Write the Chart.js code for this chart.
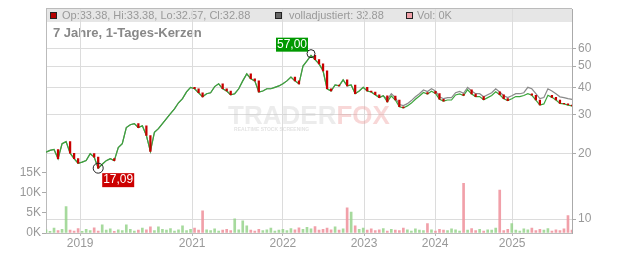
<!DOCTYPE html>
<html lang="de">
<head>
<meta charset="UTF-8">
<title>7 Jahre, 1-Tages-Kerzen</title>
<script src="https://cdn.jsdelivr.net/npm/chart.js"></script>
<style>
  body { margin: 0; background: #fff; }
  #wrap { width: 632px; height: 253px; }
</style>
</head>
<body>
<div id="wrap"><canvas id="chart"></canvas></div>
<script>
// x = position of the bar in the series (index), years are marked at these spots
const yearLabels = ['2019', '2021', '2022', '2023', '2024', '2025'];
const yearPos = [8.5, 36.4, 59.0, 79.2, 96.9, 116.1];

// fully adjusted close (grey line)
const adjusted = [
  20.2, 20.6, 20.8, 18.9, 22.1, 22.6, 20.0, 18.9, 18.0, 18.2,
  18.5, 19.9, 19.2, 17.1, 17.8, 18.5, 18.9, 18.5, 21.2, 22.1,
  26.2, 27.0, 27.3, 26.2, 26.7, 24.1, 20.4, 24.9, 25.9, 27.3,
  28.8, 30.3, 31.9, 34.0, 35.5, 38.1, 40.0, 39.4, 37.8, 36.2,
  37.4, 37.8, 40.3, 41.5, 39.4, 38.5, 37.0, 37.4, 39.4, 42.8,
  46.1, 43.8, 42.8, 38.1, 38.5, 39.4, 39.4, 40.0, 40.6, 41.5,
  42.8, 44.6, 42.8, 41.5, 50.0, 52.8, 56.0, 53.5, 51.2, 47.6,
  39.4, 38.5, 41.0, 40.6, 43.3, 40.6, 41.0, 37.4, 38.5, 40.0,
  38.5, 38.1, 37.0, 35.9, 36.6, 35.2, 37.4, 35.9, 33.4, 33.0,
  33.7, 34.8, 36.2, 37.4, 38.9, 38.3, 39.4, 38.5, 36.2, 35.5,
  35.9, 35.9, 37.8, 38.3, 37.6, 40.0, 38.5, 37.4, 37.4, 36.2,
  37.0, 37.8, 39.4, 38.1, 36.6, 35.9, 36.6, 37.4, 37.4, 37.8,
  40.0, 39.4, 37.4, 35.5, 35.9, 39.4, 38.5, 37.4, 36.2, 35.9,
  35.5, 35.2
];

// traded close (candles)
const closes = [
  20.2, 20.6, 20.8, 18.9, 22.1, 22.6, 20.0, 18.9, 18.0, 18.2,
  18.5, 19.9, 19.2, 17.1, 17.8, 18.5, 18.9, 18.5, 21.2, 22.1,
  26.2, 27.0, 27.3, 26.2, 26.7, 24.1, 20.4, 24.9, 25.9, 27.3,
  28.8, 30.3, 31.9, 34.0, 35.5, 38.1, 40.0, 39.4, 37.8, 36.2,
  37.4, 37.8, 40.3, 41.5, 39.4, 38.5, 37.0, 37.4, 39.4, 42.8,
  46.1, 43.8, 42.8, 38.1, 38.5, 39.4, 39.4, 40.0, 40.6, 41.5,
  42.8, 44.6, 42.8, 41.5, 50.0, 52.8, 56.0, 53.5, 51.2, 47.6,
  39.4, 38.5, 41.0, 40.6, 43.3, 40.6, 41.0, 37.4, 38.5, 40.0,
  38.5, 38.1, 37.0, 35.9, 36.6, 34.3, 36.5, 35.0, 32.6, 32.2,
  32.9, 33.9, 35.3, 36.5, 37.9, 37.3, 38.4, 37.5, 35.3, 34.6,
  35.0, 35.0, 36.9, 37.3, 36.7, 39.0, 37.3, 36.3, 36.3, 35.1,
  35.9, 36.7, 38.2, 37.0, 35.5, 34.8, 35.5, 36.3, 36.3, 36.7,
  37.4, 36.8, 35.0, 33.2, 33.6, 36.8, 36.0, 35.0, 33.8, 33.6,
  33.2, 32.9
];

const volumes = [
  800, 400, 1200, 600, 900, 6500, 700, 500, 1100, 400,
  900, 600, 1300, 500, 2000, 700, 1000, 400, 800, 600,
  2000, 900, 500, 700, 1200, 800, 1500, 600, 1500, 900,
  700, 1100, 500, 800, 1800, 600, 900, 1200, 700, 5500,
  800, 600, 1000, 500, 700, 900, 600, 3500, 800, 3000,
  1800, 700, 500, 900, 600, 800, 1200, 500, 700, 900,
  600, 1100, 800, 1300, 900, 1400, 1000, 1600, 700, 900,
  1200, 800, 1500, 700, 1000, 6200, 5200, 1800, 900, 1200,
  700, 1000, 600, 800, 1100, 500, 900, 700, 600, 1200,
  800, 500, 1000, 700, 600, 2300, 800, 500, 900, 700,
  600, 1000, 800, 500, 12300, 700, 1100, 600, 900, 500,
  800, 700, 1200, 10600, 600, 900, 2300, 700, 500, 1000,
  800, 1200, 600, 900, 700, 1100, 500, 800, 600, 1000,
  4300, 700
];

const priceTicks = [10, 20, 30, 40, 50, 60];
const volTicks = [0, 5000, 10000, 15000];
const highIdx = 66, highVal = 57.00;
const lowIdx = 13, lowVal = 17.09;
const lastBar = { op: '33.38', hi: '33.38', lo: '32.57', cl: '32.88', adj: '32.88', vol: '0K' };

const FONT = 'Liberation Sans, Arial, sans-serif';
const UP_VOL = 'rgba(150,212,140,0.85)';
const DOWN_VOL = 'rgba(240,150,160,0.9)';

const isUp = closes.map((c, i) => i === 0 || c >= closes[i - 1]);

const headerPlugin = {
  id: 'header',
  beforeDraw(chart) {
    const ctx = chart.ctx;
    const a = chart.chartArea;
    ctx.save();
    ctx.fillStyle = '#e6e6e6';
    ctx.fillRect(a.left, 9, a.right - a.left, 13);
    ctx.strokeStyle = '#bbb';
    ctx.lineWidth = 1;
    ctx.beginPath();
    ctx.moveTo(a.left, 8.5);
    ctx.lineTo(a.right, 8.5);
    ctx.stroke();

    function square(x, color) {
      ctx.fillStyle = color;
      ctx.fillRect(x, 12, 7, 7);
      ctx.strokeStyle = '#222';
      ctx.strokeRect(x + 0.5, 12.5, 6, 6);
    }
    ctx.font = '11px ' + FONT;
    ctx.textBaseline = 'middle';
    square(50, '#b40000');
    ctx.fillStyle = '#999';
    ctx.fillText('Op:' + lastBar.op + ', Hi:' + lastBar.hi + ', Lo:' + lastBar.lo + ', Cl:' + lastBar.cl, 62, 16);
    square(275, '#666');
    ctx.fillStyle = '#999';
    ctx.fillText('volladjustiert: ' + lastBar.adj, 289, 16);
    square(406, '#f0a0a8');
    ctx.fillStyle = '#999';
    ctx.fillText('Vol: ' + lastBar.vol, 417, 16);

    ctx.font = 'bold 13px ' + FONT;
    ctx.fillStyle = '#888';
    ctx.fillText('7 Jahre, 1-Tages-Kerzen', 53, 33);
    ctx.restore();
  },
  beforeDatasetsDraw(chart) {
    const ctx = chart.ctx;
    const a = chart.chartArea;
    const cx = (a.left + a.right) / 2;
    ctx.save();
    ctx.font = 'bold 26px ' + FONT;
    ctx.textBaseline = 'middle';
    const w1 = ctx.measureText('TRADER').width;
    const w2 = ctx.measureText('FOX').width;
    const x0 = cx - (w1 + w2) / 2;
    ctx.fillStyle = 'rgba(200,200,200,0.35)';
    ctx.fillText('TRADER', x0, 117);
    ctx.fillStyle = 'rgba(235,140,140,0.35)';
    ctx.fillText('FOX', x0 + w1, 117);
    ctx.font = 'bold 5px ' + FONT;
    ctx.fillStyle = 'rgba(200,200,200,0.5)';
    ctx.fillText('REALTIME STOCK SCREENING', x0 + 6, 130);
    ctx.restore();
  },
  afterDatasetsDraw(chart) {
    const ctx = chart.ctx;
    const xs = chart.scales.x, ys = chart.scales.y;
    ctx.save();
    ctx.font = '12px ' + FONT;
    ctx.textAlign = 'center';
    ctx.textBaseline = 'middle';

    const hx = xs.getPixelForValue(highIdx), hy = ys.getPixelForValue(highVal);
    ctx.strokeStyle = '#222';
    ctx.lineWidth = 1;
    ctx.beginPath(); ctx.arc(hx, hy, 4, 0, Math.PI * 2); ctx.stroke();
    ctx.fillStyle = '#009900';
    ctx.fillRect(hx - 35, hy - 16, 32, 14);
    ctx.fillStyle = '#fff';
    ctx.fillText(highVal.toFixed(2).replace('.', ','), hx - 19, hy - 9);

    const lx = xs.getPixelForValue(lowIdx), ly = ys.getPixelForValue(lowVal);
    ctx.beginPath(); ctx.arc(lx, ly, 5, 0, Math.PI * 2); ctx.stroke();
    ctx.fillStyle = '#cc0000';
    ctx.fillRect(lx + 4, ly + 5, 32, 14);
    ctx.fillStyle = '#fff';
    ctx.fillText(lowVal.toFixed(2).replace('.', ','), lx + 20, ly + 12);
    ctx.restore();
  }
};

new Chart(document.getElementById('chart'), {
  type: 'line',
  data: {
    datasets: [
      {
        type: 'bar',
        yAxisID: 'vol',
        data: volumes.map((v, i) => ({ x: i, y: v })),
        backgroundColor: volumes.map((v, i) => isUp[i] ? UP_VOL : DOWN_VOL),
        barThickness: 2,
        grouped: false,
        order: 4
      },
      {
        yAxisID: 'y',
        data: adjusted.map((v, i) => ({ x: i, y: v })),
        borderColor: '#8a8a8a',
        borderWidth: 1.2,
        pointRadius: 0,
        order: 3
      },
      {
        yAxisID: 'y',
        data: closes.map((v, i) => ({ x: i, y: v })),
        borderColor: '#3aa53a',
        borderWidth: 1.2,
        pointRadius: 0,
        order: 2
      },
      {
        type: 'bar',
        yAxisID: 'y',
        data: closes.map((c, i) => ({ x: i, y: isUp[i] ? null : [closes[i - 1], c] })),
        backgroundColor: '#c80000',
        barThickness: 1.6,
        grouped: false,
        order: 1
      }
    ]
  },
  options: {
    responsive: true,
    maintainAspectRatio: false,
    animation: false,
    layout: { padding: { top: 8, left: 0, right: 0, bottom: 0 } },
    plugins: { legend: { display: false }, tooltip: { enabled: false } },
    scales: {
      x: {
        type: 'linear',
        min: 0,
        max: closes.length - 1,
        offset: false,
        afterBuildTicks: s => { s.ticks = yearPos.map(v => ({ value: v })); },
        afterFit: s => { s.height = 20; },
        ticks: {
          autoSkip: false,
          maxRotation: 0,
          padding: 0,
          color: '#999',
          font: { size: 12, family: FONT },
          callback: (v, i) => yearLabels[i]
        },
        grid: { color: '#dcdcdc', tickColor: '#bbb', tickLength: 3, offset: false },
        border: { color: '#bbb' }
      },
      y: {
        type: 'logarithmic',
        position: 'right',
        min: 8.64,
        max: 91,
        afterBuildTicks: s => { s.ticks = priceTicks.map(v => ({ value: v })); },
        afterFit: s => { s.width = 60; },
        ticks: {
          padding: 2,
          color: '#999',
          font: { size: 12, family: FONT },
          callback: v => String(v)
        },
        grid: { color: '#dcdcdc', tickColor: '#aaa', tickLength: 4 },
        border: { color: '#aaa' }
      },
      vol: {
        type: 'linear',
        position: 'left',
        min: 0,
        max: 55300,
        afterBuildTicks: s => { s.ticks = volTicks.map(v => ({ value: v })); },
        afterFit: s => { s.width = 46; },
        ticks: {
          padding: 1,
          color: '#999',
          font: { size: 12, family: FONT },
          callback: v => (v / 1000) + 'K'
        },
        grid: { drawOnChartArea: false, tickColor: '#aaa', tickLength: 4 },
        border: { color: '#bbb' }
      }
    }
  },
  plugins: [headerPlugin]
});
</script>
</body>
</html>
